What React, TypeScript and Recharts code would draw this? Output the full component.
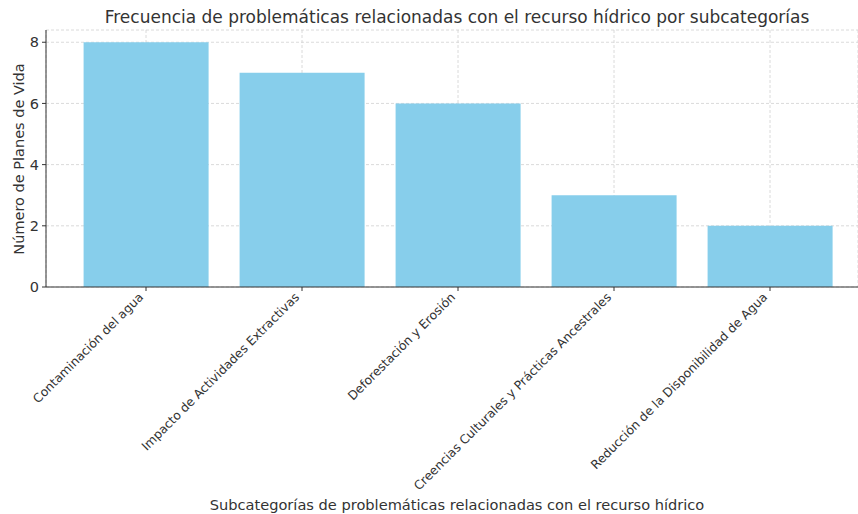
import React from "react";
import { Bar, BarChart, CartesianGrid, XAxis, YAxis } from "recharts";

// values
const subcategorias = [
  "Contaminación del agua",
  "Impacto de Actividades Extractivas",
  "Deforestación y Erosión",
  "Creencias Culturales y Prácticas Ancestrales",
  "Reducción de la Disponibilidad de Agua",
];
const planesDeVida = [8, 7, 6, 3, 2];
const yTicks = [0, 2, 4, 6, 8];

const data = subcategorias.map((name, i) => ({ name, value: planesDeVida[i] }));

const FONT = "DejaVu Sans, Verdana, sans-serif";
const TEXT = "#333333";

function RotatedTick(props: any) {
  const { x, y, payload } = props;
  return (
    <g transform={`translate(${x - 2},${y + 7})`}>
      <text
        x={0}
        y={0}
        transform="rotate(-45)"
        textAnchor="end"
        fontSize={12.3}
        fontFamily={FONT}
        fill={TEXT}
      >
        {payload.value}
      </text>
    </g>
  );
}

export default function App() {
  return (
    <div style={{ position: "fixed", left: 0, top: 0, width: 858, height: 514, background: "#fff" }}>
      <BarChart
        width={858}
        height={514}
        data={data}
        margin={{ top: 30, right: 0, left: 0, bottom: 0 }}
        barCategoryGap="10%"
      >
        <XAxis
          dataKey="name"
          interval={0}
          padding={{ left: 22, right: 10 }}
          tick={<RotatedTick />}
          tickSize={4}
          tickMargin={0}
          axisLine={{ stroke: "#333", strokeWidth: 1 }}
          tickLine={{ stroke: "#333" }}
          height={227}
        />
        <YAxis
          domain={[0, 8.4]}
          ticks={yTicks}
          allowDataOverflow
          width={46}
          tickSize={4}
          tickMargin={3}
          axisLine={{ stroke: "#333", strokeWidth: 1 }}
          tickLine={{ stroke: "#333" }}
          tick={{ fontSize: 14.5, fontFamily: FONT, fill: TEXT }}
        />
        <Bar dataKey="value" fill="#87CEEB" isAnimationActive={false} />
        <CartesianGrid stroke="#d0d0d0" strokeDasharray="3 2" strokeWidth={0.8} />
        <text x={457} y={23} textAnchor="middle" fontSize={17} fontFamily={FONT} fill={TEXT}>
          Frecuencia de problemáticas relacionadas con el recurso hídrico por subcategorías
        </text>
        <text x={457} y={510} textAnchor="middle" fontSize={14.6} fontFamily={FONT} fill={TEXT}>
          Subcategorías de problemáticas relacionadas con el recurso hídrico
        </text>
        <text
          x={24}
          y={159}
          transform="rotate(-90, 24, 159)"
          textAnchor="middle"
          fontSize={14.5}
          fontFamily={FONT}
          fill={TEXT}
        >
          Número de Planes de Vida
        </text>
      </BarChart>
    </div>
  );
}
